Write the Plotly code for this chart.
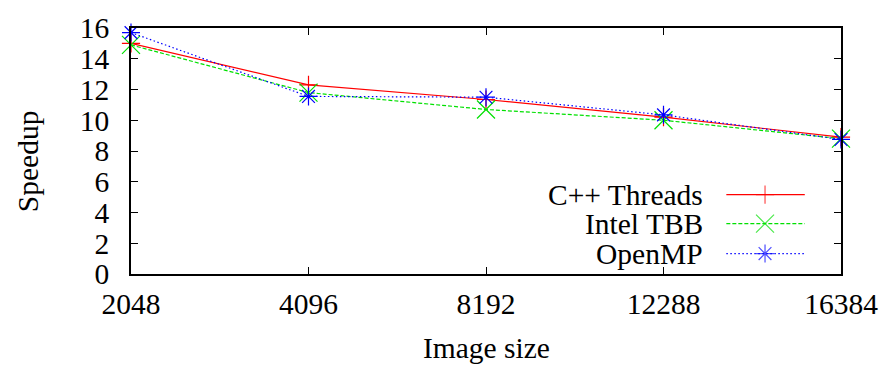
import plotly.graph_objects as go

# Speedup measurements per image size
image_sizes = ["2048", "4096", "8192", "12288", "16384"]
cpp_threads = [15.0, 12.3, 11.35, 10.2, 8.9]
intel_tbb = [14.9, 11.8, 10.7, 10.0, 8.8]
openmp = [15.7, 11.55, 11.5, 10.35, 8.75]

series_names = ["C++ Threads", "Intel TBB", "OpenMP"]
series_values = [cpp_threads, intel_tbb, openmp]
colors = ["#ff0000", "#00e000", "#0000ff"]
dashes = ["solid", "4px,2px", "1.5px,2.5px"]
symbols = ["cross-thin-open", "x-thin-open", "asterisk-open"]
marker_sizes = [13, 18, 15]

FONT = "Liberation Serif"
FS = 29.5

fig = go.Figure()

for name, vals, col, dash, sym, ms in zip(series_names, series_values, colors,
                                          dashes, symbols, marker_sizes):
    fig.add_trace(go.Scatter(
        x=image_sizes, y=vals, name=name, mode="lines+markers",
        line=dict(color=col, width=1.2, dash=dash),
        marker=dict(symbol=sym, size=ms, color=col, line=dict(color=col, width=1.2)),
        cliponaxis=False, showlegend=False,
    ))

# Key in the lower right corner: label on the left, line sample with marker on the right
legend_rows_y = [0.323, 0.205, 0.083]
x_text, x_l0, x_l1, x_m = 0.809, 0.8385, 0.949, 0.893
for name, col, dash, yy in zip(series_names, colors, dashes, legend_rows_y):
    fig.add_annotation(x=x_text, y=yy, xref="paper", yref="paper", text=name,
                       showarrow=False, xanchor="right", yanchor="middle",
                       font=dict(family=FONT, size=FS, color="black"))
    fig.add_shape(type="line", xref="paper", yref="paper", x0=x_l0, x1=x_l1,
                  y0=yy, y1=yy, line=dict(color=col, width=1.2, dash=dash))
fig.add_trace(go.Scatter(
    x=[x_m] * 3, y=legend_rows_y, xaxis="x2", yaxis="y2", mode="markers",
    marker=dict(symbol=symbols, size=marker_sizes, color=colors,
                line=dict(color=colors, width=1.2)),
    showlegend=False, hoverinfo="skip", cliponaxis=False,
))

fig.add_annotation(x=0.5, y=-0.3, xref="paper", yref="paper", text="Image size",
                   showarrow=False, xanchor="center", yanchor="middle",
                   font=dict(family=FONT, size=FS, color="black"))
fig.add_annotation(x=-0.146, y=0.46, xref="paper", yref="paper", text="Speedup",
                   showarrow=False, textangle=-90, xanchor="center", yanchor="middle",
                   font=dict(family=FONT, size=FS, color="black"))

axis_common = dict(showline=True, linecolor="black", linewidth=1.5, mirror="allticks",
                   ticks="inside", ticklen=7, tickwidth=1.2, tickcolor="black",
                   showgrid=False, zeroline=False,
                   tickfont=dict(family=FONT, size=FS, color="black"))

fig.update_layout(
    width=890, height=372,
    margin=dict(l=131, r=47, t=20, b=98),
    paper_bgcolor="white", plot_bgcolor="white",
    font=dict(family=FONT, size=FS, color="black"),
    xaxis=dict(type="category", range=[0, 4], ticklabelstandoff=3, **axis_common),
    yaxis=dict(range=[0, 16], dtick=2, ticklabelstandoff=14, **axis_common),
    xaxis2=dict(overlaying="x", range=[0, 1], visible=False),
    yaxis2=dict(overlaying="y", range=[0, 1], visible=False),
)

fig.write_html("out.html")
